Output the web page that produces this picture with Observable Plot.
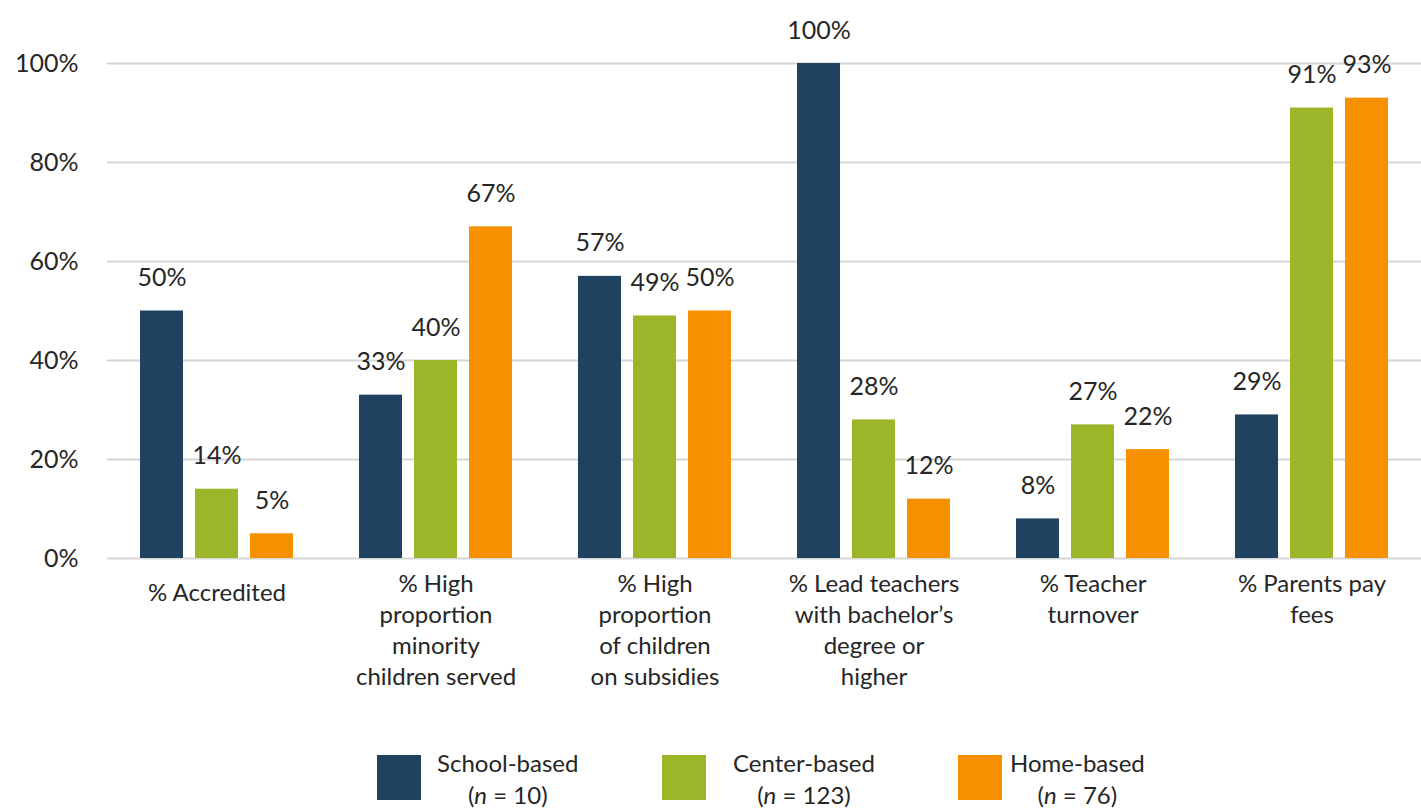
<!DOCTYPE html>
<html>
<head>
<meta charset="utf-8">
<script src="https://cdn.jsdelivr.net/npm/d3@7"></script>
<script src="https://cdn.jsdelivr.net/npm/@observablehq/plot@0.6"></script>
<style>
  html, body { margin: 0; padding: 0; background: #fff; }
  #wrap { position: relative; width: 1421px; height: 808px; font-family: Lato, "Open Sans", sans-serif; color: #262626; }
  #chart { position: absolute; left: 0; top: 0; }
  .sw { position: absolute; width: 44px; height: 45px; top: 755px; }
  .lab { position: absolute; top: 747px; font-size: 24px; line-height: 32px; text-align: center; white-space: nowrap; }
</style>
</head>
<body>
<div id="wrap">
  <div id="chart"></div>
  <div id="legend"></div>
</div>
<script>
// Program characteristics by setting type
const categories = [
  "% Accredited",
  "% High\nproportion\nminority\nchildren served",
  "% High\nproportion\nof children\non subsidies",
  "% Lead teachers\nwith bachelor’s\ndegree or\nhigher",
  "% Teacher\nturnover",
  "% Parents pay\nfees"
];
const settings = ["School-based", "Center-based", "Home-based"];
const sampleSizes = [10, 123, 76];
const schoolBased = [50, 33, 57, 100, 8, 29];
const centerBased = [14, 40, 49, 28, 27, 91];
const homeBased = [5, 67, 50, 12, 22, 93];
const colors = ["#1f4260", "#9cb62a", "#f79100"];
const yTicks = [0, 20, 40, 60, 80, 100];

const series = [schoolBased, centerBased, homeBased];
const rows = [];
categories.forEach((c, i) => {
  settings.forEach((s, j) => rows.push({category: c, setting: s, value: series[j][i]}));
});

// single-line category labels sit a little lower than the wrapped ones
const singleLine = categories.filter(c => !c.includes("\n"));
const multiLine = categories.filter(c => c.includes("\n"));

const chart = Plot.plot({
  width: 1421,
  height: 712,
  marginLeft: 107,
  marginRight: 0,
  marginTop: 63,
  marginBottom: 154,
  style: {fontFamily: "Lato, 'Open Sans', sans-serif", fontSize: "25px", color: "#262626", background: "transparent"},
  fx: {domain: categories, padding: 0, label: null},
  x: {domain: settings, paddingInner: 0.21, paddingOuter: 0.58, axis: null},
  y: {domain: [0, 100], axis: null},
  color: {domain: settings, range: colors},
  marks: [
    Plot.ruleY(yTicks, {stroke: "#d6d6d6", strokeWidth: 2}),
    Plot.axisY({ticks: yTicks, tickSize: 0, tickPadding: 29, tickFormat: d => d + "%", fontSize: 25, label: null}),
    Plot.axisFx({anchor: "bottom", ticks: singleLine, tickSize: 0, tickPadding: 25, fontSize: 24, label: null}),
    Plot.axisFx({anchor: "bottom", ticks: multiLine, tickSize: 0, tickPadding: 11, fontSize: 24, lineHeight: 1.3, label: null}),
    Plot.barY(rows, {fx: "category", x: "setting", y: "value", fill: "setting"}),
    Plot.text(rows, {fx: "category", x: "setting", y: "value", text: d => d.value + "%", dy: -25, lineAnchor: "bottom", fontSize: 25, fill: "#262626"})
  ]
});
document.getElementById("chart").appendChild(chart);

// Legend below the chart
const legend = document.getElementById("legend");
const swatchLeft = [377, 662, 958];
const labelLeft = [437, 733, 1010];
settings.forEach((s, i) => {
  const sw = document.createElement("div");
  sw.className = "sw";
  sw.style.left = swatchLeft[i] + "px";
  sw.style.background = colors[i];
  legend.appendChild(sw);
  const lab = document.createElement("div");
  lab.className = "lab";
  lab.style.left = labelLeft[i] + "px";
  lab.innerHTML = s + "<br>(<i>n</i> = " + sampleSizes[i] + ")";
  legend.appendChild(lab);
});
</script>
</body>
</html>
